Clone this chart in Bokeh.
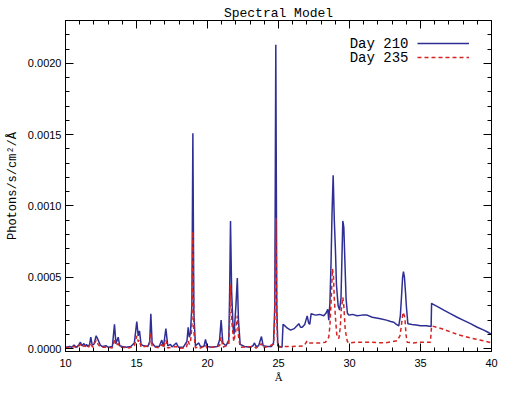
from bokeh.plotting import figure
from bokeh.models import (Range1d, LinearAxis, SingleIntervalTicker, PrintfTickFormatter,
                          CustomJSTickFormatter, Label, Legend, LegendItem, ColumnDataSource)
from bokeh.embed import file_html
from bokeh.resources import INLINE

title_text = "Spectral Model"
x_label = "Å"
y_label = "Photons/s/cm²/Å"
series_names = ["Day 210", "Day 235"]

# Day 210 (wavelength in Å, flux in 1e-4 photons/s/cm^2/Å)
wave_210 = [10.0, 10.3, 10.45, 10.6, 10.7, 10.8, 10.95, 11.05, 11.15, 11.3, 11.4, 11.48, 11.58,
            11.7, 11.78, 11.88, 12.0, 12.16, 12.3, 12.45, 12.6, 12.87, 13.0, 13.3, 13.45, 13.55,
            13.71, 13.82, 14.0, 14.3, 14.6, 14.85, 15.02, 15.12, 15.21, 15.32, 15.5, 15.8, 15.93,
            16.01, 16.1, 16.3, 16.6, 16.78, 16.9, 17.07, 17.2, 17.39, 17.5, 17.8, 17.95, 18.3,
            18.55, 18.64, 18.72, 18.8, 18.9, 18.97, 19.04, 19.15, 19.39, 19.5, 19.75, 19.86,
            19.97, 20.3, 20.7, 20.85, 20.96, 21.08, 21.3, 21.5, 21.56, 21.62, 21.7, 21.8, 21.87,
            22.0, 22.1, 22.18, 22.3, 22.6, 23.0, 23.2, 23.31, 23.42, 23.6, 23.8, 23.92, 24.2,
            24.5, 24.65, 24.74, 24.81, 24.88, 24.95, 25.25, 25.32, 25.45, 25.6, 25.85, 26.1,
            26.3, 26.43, 26.55, 26.67, 26.85, 27.02, 27.12, 27.2, 27.3, 27.6, 27.9, 28.19, 28.35,
            28.47, 28.54, 28.62, 28.7, 28.77, 28.85, 28.93, 29.01, 29.08, 29.2, 29.3, 29.4, 29.47,
            29.53, 29.6, 29.68, 29.76, 29.85, 29.95, 30.2, 30.54, 30.9, 31.24, 31.6, 31.9, 32.18,
            32.6, 32.9, 33.12, 33.3, 33.47, 33.58, 33.66, 33.74, 33.8, 33.87, 33.94, 34.01, 34.11,
            34.4, 34.7, 35.0, 35.4, 35.75, 35.78, 35.8, 36.2, 36.64, 37.1, 37.58, 38.0, 38.52,
            39.0, 39.46, 39.75, 40.0]
flux_210 = [0.1, 0.15, 0.1, 0.25, 0.15, 0.1, 0.3, 0.45, 0.2, 0.35, 0.15, 0.3, 0.15,
            0.3, 0.8, 0.25, 0.3, 0.9, 0.6, 0.25, 0.15, 0.2, 0.1, 0.15, 1.7, 0.35,
            0.8, 0.2, 0.15, 0.1, 0.15, 0.4, 1.9, 0.9, 1.25, 0.3, 0.2, 0.15, 0.5,
            2.45, 0.4, 0.15, 0.15, 0.6, 0.15, 1.4, 0.2, 0.3, 0.12, 0.4, 0.1, 0.1,
            0.5, 1.5, 0.8, 1.1, 3.0, 15.1, 2.5, 0.2, 0.4, 0.15, 0.15, 0.65,
            0.15, 0.1, 0.15, 0.6, 2.0, 0.4, 0.2, 0.6, 4.0, 8.95, 4.0, 1.5, 1.0,
            3.0, 4.95, 2.0, 0.3, 0.15, 0.1, 0.2, 0.4, 0.15, 0.2, 0.85, 0.2, 0.15,
            0.15, 0.4, 3.0, 21.3, 3.0, 0.2, 0.1, 1.7, 1.6, 1.45, 1.3, 1.4,
            1.6, 1.75, 1.5, 1.5, 1.7, 2.3, 1.8, 1.7, 2.45, 2.35, 2.4, 2.3, 2.5,
            2.75, 2.0, 3.2, 6.0, 9.5, 12.15, 9.0, 6.9, 4.5, 3.0, 2.7, 3.5, 6.5,
            8.95, 8.5, 6.0, 3.5, 2.5, 2.35, 2.4, 2.3, 2.35, 2.35, 2.2, 2.15, 2.1,
            2.0, 1.9, 1.85, 1.7, 1.6, 2.3, 3.6, 5.0, 5.4, 5.0, 4.0, 2.9, 1.75,
            1.7, 1.65, 1.6, 1.6, 1.55, 3.2, 3.15, 2.95, 2.7, 2.45, 2.2, 2.0, 1.75,
            1.5, 1.3, 1.15, 1.0]

# Day 235
wave_235 = [10.0, 10.6, 10.8, 11.05, 11.15, 11.3, 11.48, 11.6, 11.78, 11.9, 12.16, 12.3, 12.45,
            12.87, 13.3, 13.45, 13.55, 13.71, 13.82, 14.5, 14.85, 15.02, 15.12, 15.21, 15.32,
            15.9, 16.01, 16.1, 16.6, 16.78, 16.9, 17.07, 17.2, 17.8, 17.95, 18.5, 18.64, 18.72,
            18.8, 18.9, 18.97, 19.04, 19.15, 19.39, 19.5, 19.86, 19.97, 20.85, 20.96, 21.08,
            21.5, 21.56, 21.62, 21.7, 21.85, 22.0, 22.1, 22.18, 22.3, 23.31, 23.42, 23.8, 23.92,
            24.65, 24.74, 24.81, 24.88, 24.95, 25.3, 26.0, 26.8, 27.02, 27.2, 27.6, 28.0, 28.31,
            28.54, 28.62, 28.7, 28.8, 28.87, 28.93, 29.01, 29.1, 29.25, 29.35, 29.42, 29.53,
            29.6, 29.7, 29.85, 29.95, 30.5, 31.48, 32.5, 33.36, 33.55, 33.64, 33.72, 33.78,
            33.9, 33.98, 34.06, 34.5, 35.0, 35.7, 35.78, 36.5, 37.58, 38.5, 39.46, 40.0]
flux_235 = [0.05, 0.15, 0.05, 0.3, 0.1, 0.2, 0.15, 0.05, 0.4, 0.1, 0.6, 0.3, 0.1,
            0.1, 0.05, 0.7, 0.2, 0.35, 0.1, 0.05, 0.2, 0.9, 0.5, 0.6, 0.1,
            0.2, 1.1, 0.15, 0.05, 0.3, 0.05, 0.6, 0.05, 0.15, 0.03, 0.05, 0.55, 0.3,
            0.45, 1.5, 8.2, 1.2, 0.05, 0.15, 0.03, 0.25, 0.03, 0.2, 0.8, 0.1,
            0.3, 2.0, 4.5, 2.0, 0.5, 1.3, 2.3, 0.9, 0.1, 0.15, 0.03, 0.35, 0.05,
            0.3, 2.0, 9.15, 2.0, 0.1, 0.15, 0.15, 0.2, 0.55, 0.4, 0.4, 0.4, 0.45,
            0.8, 1.6, 3.2, 5.6, 5.1, 3.5, 2.2, 1.0, 0.7, 1.5, 2.7, 3.6,
            3.0, 1.3, 0.5, 0.4, 0.45, 0.45, 0.4, 0.55, 0.9, 1.5, 2.2, 2.55,
            2.2, 1.0, 0.45, 0.4, 0.45, 0.45, 1.6, 1.4, 1.0, 0.75, 0.55, 0.4]

x_start, x_end, x_major = 10, 40, 5
y_start, y_end, y_major = -0.00002, 0.0023, 0.0005
flux_unit = 1e-4

src210 = ColumnDataSource(dict(x=wave_210, y=[v * flux_unit for v in flux_210]))
src235 = ColumnDataSource(dict(x=wave_235, y=[v * flux_unit for v in flux_235]))

p = figure(width=508, height=390, output_backend="svg", toolbar_location=None,
           x_range=Range1d(x_start, x_end), y_range=Range1d(y_start, y_end),
           x_axis_type=None, y_axis_type=None, title=title_text,
           min_border_left=65, min_border_right=17, min_border_top=20, min_border_bottom=39)
p.title.text_font = "Liberation Mono"
p.title.text_font_size = "13px"
p.title.text_font_style = "normal"
p.title.text_color = "black"
p.title.align = "center"
p.title.standoff = 0
p.title.offset = 0
p.xgrid.visible = False
p.ygrid.visible = False
p.outline_line_color = "black"
p.background_fill_color = "white"
p.border_fill_color = "white"

blank = CustomJSTickFormatter(code="return ''")

def style_axis(ax, labels):
    ax.axis_line_color = "black"
    ax.major_tick_line_color = "black"
    ax.minor_tick_line_color = "black"
    ax.major_tick_in = 8
    ax.major_tick_out = 0
    ax.minor_tick_in = 4
    ax.minor_tick_out = 0
    ax.major_label_text_font = "Liberation Sans"
    ax.major_label_text_font_size = "11px"
    ax.major_label_text_color = "black"
    ax.axis_label_text_color = "black"
    if not labels:
        ax.formatter = blank
        ax.major_label_standoff = 0

xb = LinearAxis(ticker=SingleIntervalTicker(interval=x_major, num_minor_ticks=5))
style_axis(xb, True)
xb.major_label_standoff = 7
xb.axis_label = x_label
xb.axis_label_text_font = "DejaVu Serif"
xb.axis_label_text_font_style = "normal"
xb.axis_label_text_font_size = "10px"
xb.axis_label_standoff = 2
p.add_layout(xb, "below")

xt = LinearAxis(ticker=SingleIntervalTicker(interval=x_major, num_minor_ticks=5))
style_axis(xt, False)
xt.major_label_text_font_size = "1px"
p.add_layout(xt, "above")

yl = LinearAxis(ticker=SingleIntervalTicker(interval=y_major, num_minor_ticks=5),
                formatter=PrintfTickFormatter(format="%.4f"))
style_axis(yl, True)
yl.major_label_standoff = 4
yl.axis_label = y_label
yl.axis_label_text_font = "Liberation Mono"
yl.axis_label_text_font_style = "normal"
yl.axis_label_text_font_size = "12px"
yl.axis_label_standoff = 5
p.add_layout(yl, "left")

yr = LinearAxis(ticker=SingleIntervalTicker(interval=y_major, num_minor_ticks=5))
style_axis(yr, False)
p.add_layout(yr, "right")

r1 = p.line("x", "y", source=src210, line_color="#2e2e94", line_width=1.5)
r2 = p.line("x", "y", source=src235, line_color="#d42424", line_width=1.5, line_dash="4 3")

legend = Legend(items=[LegendItem(label=" ", renderers=[r1]),
                       LegendItem(label=" ", renderers=[r2])],
                location=(352, 287), glyph_width=52, glyph_height=14, label_height=14,
                label_width=0, label_standoff=0, spacing=0, padding=0, margin=0,
                label_text_font_size="10px", border_line_alpha=0, background_fill_alpha=0)
p.add_layout(legend, "center")

for name, ys in zip(series_names, [308, 294]):
    p.add_layout(Label(x=343, y=ys, x_units="screen", y_units="screen", text=name,
                       text_align="right", text_baseline="middle",
                       text_font="Liberation Mono", text_font_size="14px", text_color="black"))

open("out.html", "w").write(file_html(p, INLINE))
